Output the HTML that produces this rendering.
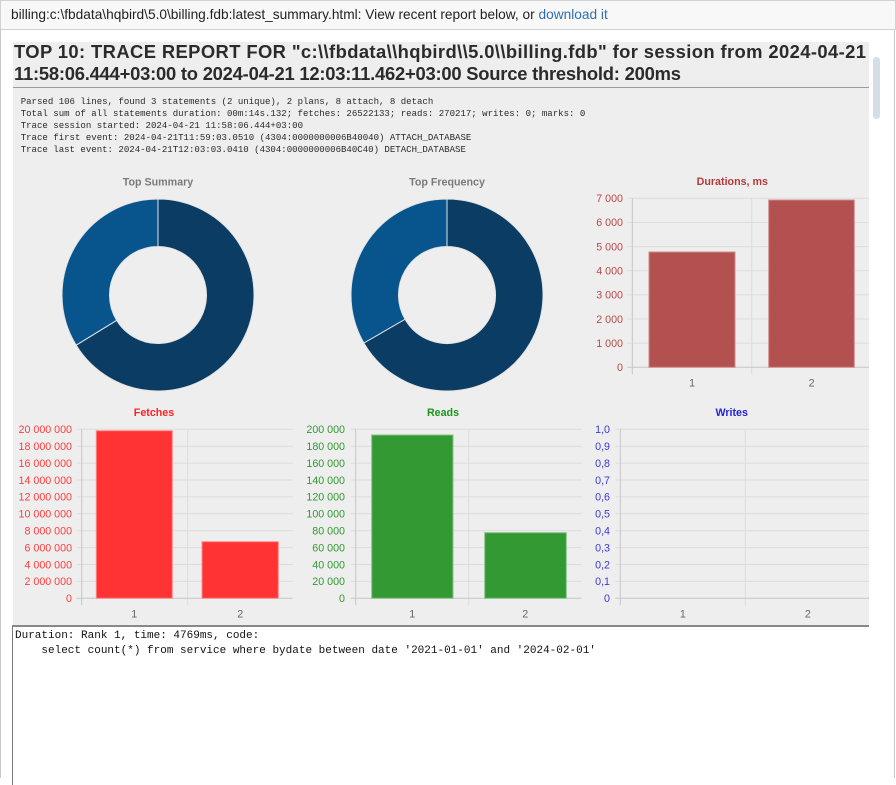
<!DOCTYPE html>
<html><head><meta charset="utf-8">
<style>
html,body{margin:0;padding:0;}
body{width:896px;height:778px;overflow:hidden;background:#fff;position:relative;font-family:"Liberation Sans",Arial,sans-serif;}
.abs{position:absolute;}
#topbar{left:0;top:0;width:896px;height:30px;box-sizing:border-box;border:1px solid #d2d2d2;background:#f8f8f8;}
#toptext{left:11px;top:1px;line-height:28px;font-size:13.7px;color:#222;white-space:nowrap;}
#toptext span{color:#2f6fb3;}
#frame{left:0;top:29px;width:895px;height:749px;box-sizing:border-box;border-left:1px solid #c8c8c8;border-right:1px solid #c8c8c8;border-top:1px solid #d0d0d0;}
#panel{left:13px;top:42px;width:856px;height:583px;background:#eeeeee;}
#title{left:14px;top:41px;font-size:18.4px;font-weight:bold;line-height:21.7px;color:#2b2b2b;white-space:nowrap;}
#title .l1{letter-spacing:0.39px;}
#title .l2{letter-spacing:-0.23px;}
#hr{left:13px;top:87px;width:856px;height:1px;background:#9a9a9a;}
#mono{left:20.7px;top:95.7px;font-family:"Liberation Mono",monospace;font-size:9.05px;line-height:12px;color:#2a2a2a;white-space:pre;}
#ta{left:12px;top:625px;width:857px;height:160px;box-sizing:border-box;border-top:2px solid #888;border-left:1px solid #777;background:#fff;}
#tatext{left:15px;top:629px;font-family:"Liberation Mono",monospace;font-size:11px;line-height:14.5px;color:#111;white-space:pre;}
</style></head>
<body>
<div id="topbar" class="abs"></div>
<div id="toptext" class="abs">billing:c:\fbdata\hqbird\5.0\billing.fdb:latest_summary.html: View recent report below, or <span>download it</span></div>
<div id="frame" class="abs"></div>
<div id="panel" class="abs"></div>
<div id="title" class="abs"><span class="l1">TOP 10: TRACE REPORT FOR "c:\\fbdata\\hqbird\\5.0\\billing.fdb" for session from 2024-04-21</span><br><span class="l2">11:58:06.444+03:00 to 2024-04-21 12:03:11.462+03:00 Source threshold: 200ms</span></div>
<div id="hr" class="abs"></div>
<div id="mono" class="abs">Parsed 106 lines, found 3 statements (2 unique), 2 plans, 8 attach, 8 detach
Total sum of all statements duration: 00m:14s.132; fetches: 26522133; reads: 270217; writes: 0; marks: 0
Trace session started: 2024-04-21 11:58:06.444+03:00
Trace first event: 2024-04-21T11:59:03.0510 (4304:0000000006B40040) ATTACH_DATABASE
Trace last event: 2024-04-21T12:03:03.0410 (4304:0000000006B40C40) DETACH_DATABASE</div>

<svg class="abs" style="left:0;top:0" width="896" height="778" viewBox="0 0 896 778" xmlns="http://www.w3.org/2000/svg" font-family="Liberation Sans, Arial, sans-serif">
<defs><clipPath id="pc"><rect x="13" y="42" width="856" height="583"/></clipPath></defs>
<rect x="873" y="57" width="7" height="62" rx="3.5" fill="#d5dee7"/>
<g clip-path="url(#pc)">
<!-- Donut 1 -->
<text x="158" y="185.5" text-anchor="middle" font-size="10.7" font-weight="bold" fill="#7a7a7a">Top Summary</text>
<path d="M158,199 A96,96 0 1 1 76.15,345.16 L116.65,320.34 A48.5,48.5 0 1 0 158,246.5 Z" fill="#0b3c64" stroke="#e4e4e4" stroke-width="1"/>
<path d="M76.15,345.16 A96,96 0 0 1 158,199 L158,246.5 A48.5,48.5 0 0 0 116.65,320.34 Z" fill="#08558e" stroke="#e4e4e4" stroke-width="1"/>
<!-- Donut 2 -->
<text x="447" y="185.5" text-anchor="middle" font-size="10.7" font-weight="bold" fill="#7a7a7a">Top Frequency</text>
<path d="M447,199 A96,96 0 1 1 363.86,343 L405,319.25 A48.5,48.5 0 1 0 447,246.5 Z" fill="#0b3c64" stroke="#e4e4e4" stroke-width="1"/>
<path d="M363.86,343 A96,96 0 0 1 447,199 L447,246.5 A48.5,48.5 0 0 0 405,319.25 Z" fill="#08558e" stroke="#e4e4e4" stroke-width="1"/>

<!-- Durations -->
<text x="732.3" y="185" text-anchor="middle" font-size="10.7" font-weight="bold" fill="#b23a3a">Durations, ms</text>
<g transform="translate(632.3,198.3)">
<g stroke="#dcdcdc" stroke-width="1">
<line x1="-5" y1="0" x2="240" y2="0"/><line x1="-5" y1="24.14" x2="240" y2="24.14"/><line x1="-5" y1="48.28" x2="240" y2="48.28"/><line x1="-5" y1="72.42" x2="240" y2="72.42"/><line x1="-5" y1="96.56" x2="240" y2="96.56"/><line x1="-5" y1="120.7" x2="240" y2="120.7"/><line x1="-5" y1="144.84" x2="240" y2="144.84"/>
<line x1="119.4" y1="0" x2="119.4" y2="176"/>
</g>
<line x1="-5" y1="169" x2="240" y2="169" stroke="#c6c6c6"/>
<line x1="0" y1="0" x2="0" y2="176" stroke="#c6c6c6"/>
<rect x="16.7" y="53.7" width="86" height="115.3" fill="#b35050" stroke="#d28c8c" stroke-width="1"/>
<rect x="136.4" y="1.7" width="85.6" height="167.3" fill="#b35050" stroke="#d28c8c" stroke-width="1"/>
<g font-size="10.7" fill="#b94848" text-anchor="end">
<text x="-9.3" y="3.8">7 000</text><text x="-9.3" y="27.9">6 000</text><text x="-9.3" y="52.1">5 000</text><text x="-9.3" y="76.2">4 000</text><text x="-9.3" y="100.4">3 000</text><text x="-9.3" y="124.5">2 000</text><text x="-9.3" y="148.6">1 000</text><text x="-9.3" y="172.8">0</text>
</g>
<g font-size="10.7" fill="#666" text-anchor="middle"><text x="59.8" y="188.2">1</text><text x="179.3" y="188.2">2</text></g>
</g>

<!-- Fetches -->
<text x="154" y="416" text-anchor="middle" font-size="10.7" font-weight="bold" fill="#ff2222">Fetches</text>
<g transform="translate(81.7,429.3)">
<g stroke="#dcdcdc" stroke-width="1">
<line x1="-5" y1="0" x2="211" y2="0"/><line x1="-5" y1="16.9" x2="211" y2="16.9"/><line x1="-5" y1="33.8" x2="211" y2="33.8"/><line x1="-5" y1="50.7" x2="211" y2="50.7"/><line x1="-5" y1="67.6" x2="211" y2="67.6"/><line x1="-5" y1="84.5" x2="211" y2="84.5"/><line x1="-5" y1="101.4" x2="211" y2="101.4"/><line x1="-5" y1="118.3" x2="211" y2="118.3"/><line x1="-5" y1="135.2" x2="211" y2="135.2"/><line x1="-5" y1="152.1" x2="211" y2="152.1"/>
<line x1="106" y1="0" x2="106" y2="176"/>
</g>
<line x1="-5" y1="169" x2="211" y2="169" stroke="#c6c6c6"/>
<line x1="0" y1="0" x2="0" y2="176" stroke="#c6c6c6"/>
<rect x="14.6" y="1.4" width="76" height="167.6" fill="#ff3333" stroke="#ff8a8a" stroke-width="1"/>
<rect x="120.3" y="112.4" width="76.3" height="56.6" fill="#ff3333" stroke="#ff8a8a" stroke-width="1"/>
<g font-size="10.7" fill="#ff3c3c" text-anchor="end">
<text x="-9.7" y="3.8">20 000 000</text><text x="-9.7" y="20.7">18 000 000</text><text x="-9.7" y="37.6">16 000 000</text><text x="-9.7" y="54.5">14 000 000</text><text x="-9.7" y="71.4">12 000 000</text><text x="-9.7" y="88.3">10 000 000</text><text x="-9.7" y="105.2">8 000 000</text><text x="-9.7" y="122.1">6 000 000</text><text x="-9.7" y="139">4 000 000</text><text x="-9.7" y="155.9">2 000 000</text><text x="-9.7" y="172.8">0</text>
</g>
<g font-size="10.7" fill="#666" text-anchor="middle"><text x="52.5" y="188.2">1</text><text x="158.5" y="188.2">2</text></g>
</g>

<!-- Reads -->
<text x="443" y="416" text-anchor="middle" font-size="10.7" font-weight="bold" fill="#1a961a">Reads</text>
<g transform="translate(355.7,429.3)">
<g stroke="#dcdcdc" stroke-width="1">
<line x1="-5" y1="0" x2="226" y2="0"/><line x1="-5" y1="16.9" x2="226" y2="16.9"/><line x1="-5" y1="33.8" x2="226" y2="33.8"/><line x1="-5" y1="50.7" x2="226" y2="50.7"/><line x1="-5" y1="67.6" x2="226" y2="67.6"/><line x1="-5" y1="84.5" x2="226" y2="84.5"/><line x1="-5" y1="101.4" x2="226" y2="101.4"/><line x1="-5" y1="118.3" x2="226" y2="118.3"/><line x1="-5" y1="135.2" x2="226" y2="135.2"/><line x1="-5" y1="152.1" x2="226" y2="152.1"/>
<line x1="113" y1="0" x2="113" y2="176"/>
</g>
<line x1="-5" y1="169" x2="226" y2="169" stroke="#c6c6c6"/>
<line x1="0" y1="0" x2="0" y2="176" stroke="#c6c6c6"/>
<rect x="16" y="5.7" width="81.3" height="163.3" fill="#339933" stroke="#86c286" stroke-width="1"/>
<rect x="129" y="103.4" width="81.6" height="65.6" fill="#339933" stroke="#86c286" stroke-width="1"/>
<g font-size="10.7" fill="#2f9a2f" text-anchor="end">
<text x="-10.7" y="3.8">200 000</text><text x="-10.7" y="20.7">180 000</text><text x="-10.7" y="37.6">160 000</text><text x="-10.7" y="54.5">140 000</text><text x="-10.7" y="71.4">120 000</text><text x="-10.7" y="88.3">100 000</text><text x="-10.7" y="105.2">80 000</text><text x="-10.7" y="122.1">60 000</text><text x="-10.7" y="139">40 000</text><text x="-10.7" y="155.9">20 000</text><text x="-10.7" y="172.8">0</text>
</g>
<g font-size="10.7" fill="#666" text-anchor="middle"><text x="56.6" y="188.2">1</text><text x="169.6" y="188.2">2</text></g>
</g>

<!-- Writes -->
<text x="731.7" y="416" text-anchor="middle" font-size="10.7" font-weight="bold" fill="#2424d8">Writes</text>
<g transform="translate(620.3,429.3)">
<g stroke="#dcdcdc" stroke-width="1">
<line x1="-5" y1="0" x2="250" y2="0"/><line x1="-5" y1="16.9" x2="250" y2="16.9"/><line x1="-5" y1="33.8" x2="250" y2="33.8"/><line x1="-5" y1="50.7" x2="250" y2="50.7"/><line x1="-5" y1="67.6" x2="250" y2="67.6"/><line x1="-5" y1="84.5" x2="250" y2="84.5"/><line x1="-5" y1="101.4" x2="250" y2="101.4"/><line x1="-5" y1="118.3" x2="250" y2="118.3"/><line x1="-5" y1="135.2" x2="250" y2="135.2"/><line x1="-5" y1="152.1" x2="250" y2="152.1"/>
<line x1="125" y1="0" x2="125" y2="176"/>
</g>
<line x1="-5" y1="169" x2="250" y2="169" stroke="#c6c6c6"/>
<line x1="0" y1="0" x2="0" y2="176" stroke="#c6c6c6"/>
<g font-size="10.7" fill="#3a3ad6" text-anchor="end">
<text x="-10.3" y="3.8">1,0</text><text x="-10.3" y="20.7">0,9</text><text x="-10.3" y="37.6">0,8</text><text x="-10.3" y="54.5">0,7</text><text x="-10.3" y="71.4">0,6</text><text x="-10.3" y="88.3">0,5</text><text x="-10.3" y="105.2">0,4</text><text x="-10.3" y="122.1">0,3</text><text x="-10.3" y="139">0,2</text><text x="-10.3" y="155.9">0,1</text><text x="-10.3" y="172.8">0</text>
</g>
<g font-size="10.7" fill="#666" text-anchor="middle"><text x="62.5" y="188.2">1</text><text x="187.5" y="188.2">2</text></g>
</g>
</g>
</svg>

<div id="ta" class="abs"></div>
<div id="tatext" class="abs">Duration: Rank 1, time: 4769ms, code:
    select count(*) from service where bydate between date '2021-01-01' and '2024-02-01'</div>
</body></html>
